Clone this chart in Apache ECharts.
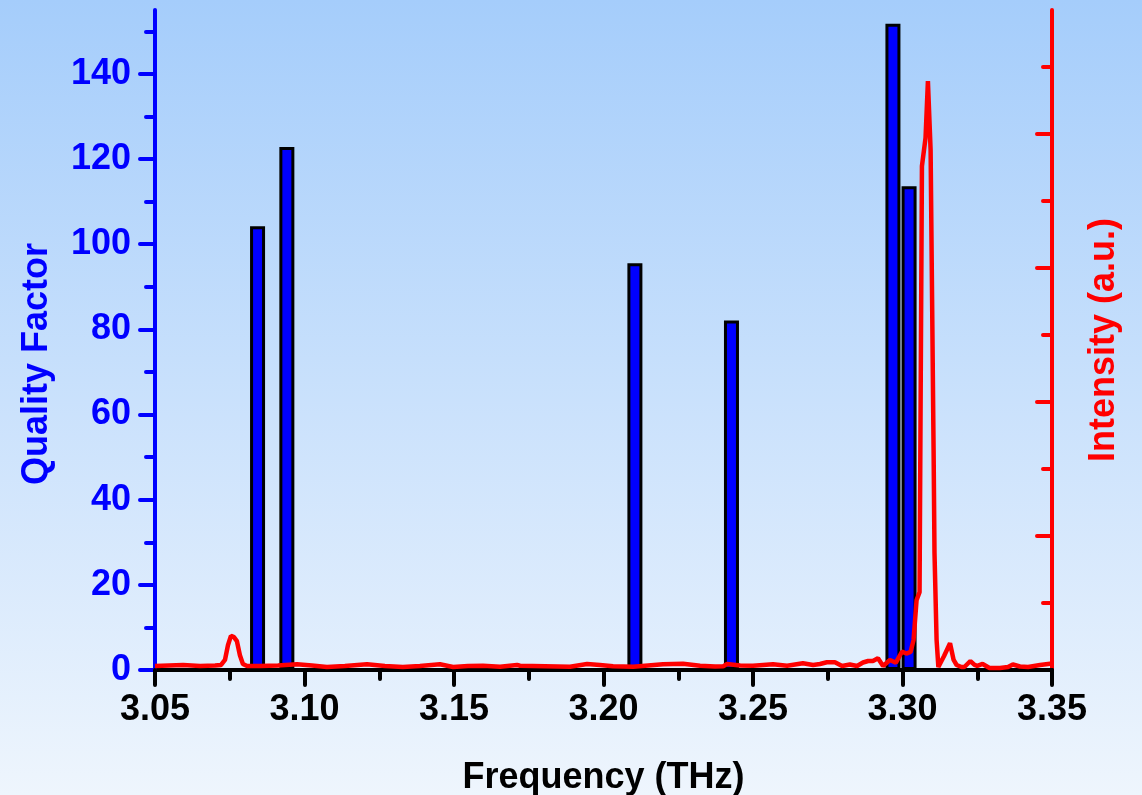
<!DOCTYPE html>
<html lang="en">
<head>
    <meta charset="UTF-8">
    <title>Quality Factor</title>
    <script src="https://cdn.jsdelivr.net/npm/echarts@6/dist/echarts.min.js"></script>
    <style>
        html, body { margin: 0; padding: 0; }
        #main { width: 1142px; height: 795px; }
    </style>
</head>
<body>
<div id="main"></div>
<script type="text/javascript">
    // bars: resonance frequency (THz) and quality factor
    var barFreq = [3.0843, 3.0941, 3.2105, 3.2428, 3.2968, 3.3022];
    var barQ = [104.2, 122.8, 95.5, 82.1, 151.8, 113.6];

    // emission spectrum
    var specFreq = [3.0500, 3.0594, 3.0651, 3.0701, 3.0721, 3.0734, 3.0744, 3.0754, 3.0764, 3.0774,
        3.0784, 3.0794, 3.0808, 3.0851, 3.0911, 3.0975, 3.1025, 3.1075, 3.1135, 3.1209,
        3.1269, 3.1329, 3.1386, 3.1453, 3.1497, 3.1547, 3.1597, 3.1654, 3.1711, 3.1721,
        3.1804, 3.1888, 3.1945, 3.1988, 3.2032, 3.2099, 3.2149, 3.2199, 3.2266, 3.2323,
        3.2373, 3.2400, 3.2413, 3.2457, 3.2500, 3.2567, 3.2614, 3.2667, 3.2701, 3.2724,
        3.2747, 3.2774, 3.2798, 3.2824, 3.2848, 3.2868, 3.2885, 3.2901, 3.2918, 3.2935,
        3.2958, 3.2978, 3.2998, 3.3013, 3.3027, 3.3037, 3.3047, 3.3057, 3.3065, 3.3077,
        3.3085, 3.3094, 3.3099, 3.3104, 3.3107, 3.3114, 3.3120, 3.3139, 3.3159, 3.3171,
        3.3181, 3.3197, 3.3207, 3.3227, 3.3241, 3.3250, 3.3268, 3.3291, 3.3326, 3.3353,
        3.3369, 3.3393, 3.3420, 3.3460, 3.3500];
    var specInt = [0.06, 0.075, 0.06, 0.067, 0.075, 0.15, 0.37, 0.51, 0.49, 0.43,
        0.22, 0.09, 0.06, 0.06, 0.067, 0.085, 0.067, 0.045, 0.06, 0.085,
        0.06, 0.045, 0.06, 0.085, 0.045, 0.06, 0.064, 0.05, 0.075, 0.064,
        0.057, 0.049, 0.09, 0.075, 0.055, 0.049, 0.067, 0.085, 0.094, 0.064,
        0.052, 0.055, 0.09, 0.067, 0.064, 0.085, 0.064, 0.1, 0.075, 0.09,
        0.115, 0.115, 0.06, 0.082, 0.06, 0.112, 0.134, 0.134, 0.175, 0.06,
        0.15, 0.109, 0.273, 0.246, 0.269, 0.448, 1.04, 1.16, 7.52, 7.94,
        8.79, 7.76, 5.52, 3.28, 1.75, 0.45, 0.045, 0.21, 0.40, 0.15,
        0.075, 0.045, 0.045, 0.134, 0.075, 0.06, 0.09, 0.03, 0.03, 0.045,
        0.082, 0.052, 0.045, 0.075, 0.097];

    var qMajor = [0, 20, 40, 60, 80, 100, 120, 140];
    var qMinor = [10, 30, 50, 70, 90, 110, 130, 150];
    var iMajor = [2, 4, 6, 8];
    var iMinor = [1, 3, 5, 7, 9];

    var font = "'Liberation Sans', Arial, sans-serif";
    var gridPos = { left: 155, right: 90, top: 10, bottom: 125, outerBoundsMode: 'none' };

    var bars = barFreq.map(function (f, i) { return [f, barQ[i]]; });
    var spec = specFreq.map(function (f, i) { return [f, specInt[i]]; });

    var myChart = echarts.init(document.getElementById('main'));
    var option = {
        animation: false,
        backgroundColor: {
            type: 'linear', x: 0, y: 0, x2: 0, y2: 1,
            colorStops: [{ offset: 0, color: '#a5cdfb' }, { offset: 1, color: '#eef5fd' }]
        },
        grid: [
            Object.assign({}, gridPos),
            Object.assign({}, gridPos)
        ],
        xAxis: [
            {
                type: 'value', gridIndex: 0,
                min: 3.05, max: 3.35, interval: 0.05,
                name: 'Frequency (THz)', nameLocation: 'middle', nameGap: 90,
                nameTextStyle: { color: '#000', fontSize: 36, fontWeight: 'bold', fontFamily: font },
                axisLine: { lineStyle: { color: '#000', width: 4 } },
                axisTick: { length: 15, lineStyle: { color: '#000', width: 4, cap: 'round' } },
                minorTick: { show: true, splitNumber: 2, length: 9, lineStyle: { color: '#000', width: 4, cap: 'round' } },
                axisLabel: {
                    margin: 22, color: '#000', fontSize: 36, fontWeight: 'bold', fontFamily: font,
                    formatter: function (v) { return v.toFixed(2); }
                },
                splitLine: { show: false }
            },
            { type: 'value', gridIndex: 1, min: 3.05, max: 3.35, show: false }
        ],
        yAxis: [
            {
                type: 'value', gridIndex: 0, position: 'left',
                min: 0, max: 155,
                name: 'Quality Factor', nameLocation: 'middle', nameGap: 100, nameRotate: 90,
                nameTextStyle: { color: '#0000ff', fontSize: 36, fontWeight: 'bold', fontFamily: font, padding: [0, 48, 0, 0] },
                axisLine: { show: true, lineStyle: { color: '#0000ff', width: 4 } },
                axisTick: { show: true, length: 15, customValues: qMajor, lineStyle: { color: '#0000ff', width: 4, cap: 'round' } },
                axisLabel: { customValues: qMajor, margin: 24, color: '#0000ff', fontSize: 36, fontWeight: 'bold', fontFamily: font },
                splitLine: { show: false }
            },
            {
                type: 'value', gridIndex: 0, position: 'right',
                min: 0, max: 9.85,
                name: 'Intensity (a.u.)', nameLocation: 'middle', nameGap: 34, nameRotate: 90,
                nameTextStyle: { color: '#ff0000', fontSize: 36, fontWeight: 'bold', fontFamily: font },
                axisLine: { show: true, lineStyle: { color: '#ff0000', width: 4 } },
                axisTick: { show: true, inside: true, length: 15, customValues: iMajor, lineStyle: { color: '#ff0000', width: 4, cap: 'round' } },
                axisLabel: { show: false },
                splitLine: { show: false }
            },
            {
                type: 'value', gridIndex: 1, position: 'left',
                min: 0, max: 155,
                axisLine: { show: false },
                axisTick: { show: true, length: 9, customValues: qMinor, lineStyle: { color: '#0000ff', width: 4, cap: 'round' } },
                axisLabel: { show: false },
                splitLine: { show: false }
            },
            {
                type: 'value', gridIndex: 1, position: 'right',
                min: 0, max: 9.85,
                axisLine: { show: false },
                axisTick: { show: true, inside: true, length: 9, customValues: iMinor, lineStyle: { color: '#ff0000', width: 4, cap: 'round' } },
                axisLabel: { show: false },
                splitLine: { show: false }
            }
        ],
        series: [
            {
                name: 'Quality Factor',
                type: 'bar',
                xAxisIndex: 0, yAxisIndex: 0,
                barWidth: 15,
                itemStyle: { color: '#0000ff', borderColor: '#000', borderWidth: 3 },
                data: bars
            },
            {
                name: 'Intensity',
                type: 'line',
                xAxisIndex: 0, yAxisIndex: 1,
                showSymbol: false,
                lineStyle: { color: '#ff0000', width: 4.5 },
                data: spec
            }
        ]
    };
    myChart.setOption(option);
</script>
</body>
</html>
